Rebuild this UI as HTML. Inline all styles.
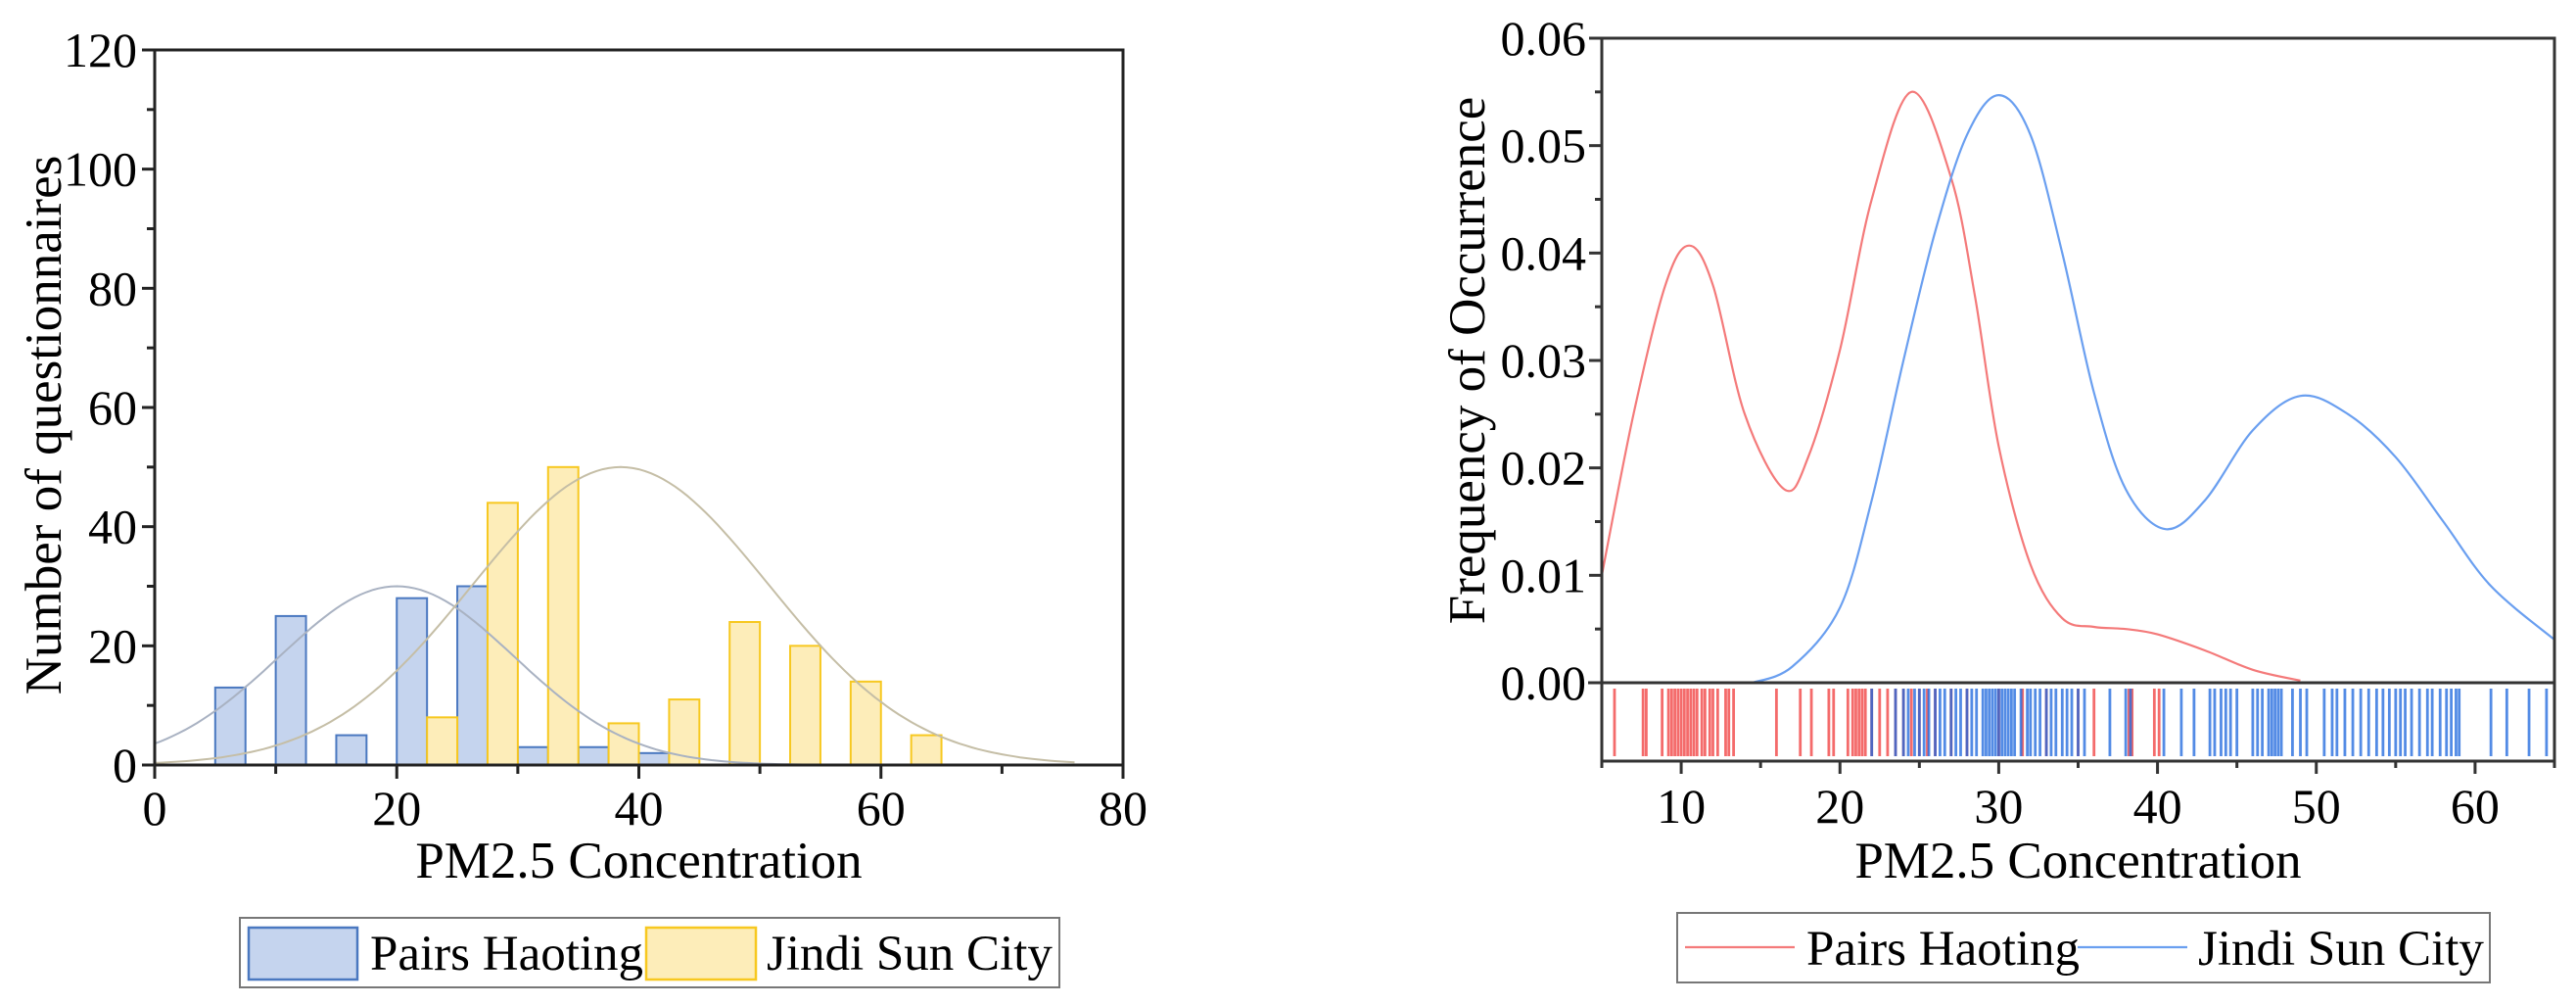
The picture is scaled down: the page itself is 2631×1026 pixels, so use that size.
<!DOCTYPE html>
<html><head><meta charset="utf-8"><style>
html,body{margin:0;padding:0;background:#fff;}
svg{display:block;font-family:"Liberation Serif",serif;}
</style></head><body>
<svg id="s" width="2631" height="1026" viewBox="0 0 2631 1026" xmlns="http://www.w3.org/2000/svg">
<g id="left"></g>
<g id="right"></g>
</svg>
<script>
// ---- Left histogram data ----
const blueBins = [5,10,15,20,25,30,35,40];
const blueCounts = [13,25,5,28,30,3,3,2];
const yellowBins = [22.5,27.5,32.5,37.5,42.5,47.5,52.5,57.5,62.5];
const yellowCounts = [8,44,50,7,11,24,20,14,5];
const binWidth = 2.5;
const blueFit = [20, 9.7, 30];     // mean, sd, peak
const yellowFit = [38.5, 12.2, 50];
const leftXTicks = [0,20,40,60,80];
const leftYTicks = [0,20,40,60,80,100,120];
// ---- Right KDE data ----
const redX = [5,7,9,10.5,12,14,16.5,18,20,22,24.5,27,28.5,30,32,34,36,38,40,43,46,49];
const redY = [0.010,0.025,0.037,0.0407,0.037,0.025,0.018,0.021,0.031,0.045,0.055,0.047,0.036,0.022,0.011,0.006,0.0052,0.005,0.0045,0.003,0.0012,0.0002];
const blueKX = [14.5,17,20,22,24,26,28,30,32,34,36,38,40.5,43,46,49,52,55,58,61,65];
const blueKY = [0,0.0015,0.007,0.017,0.030,0.042,0.051,0.0547,0.051,0.040,0.027,0.018,0.0143,0.017,0.0235,0.0267,0.025,0.021,0.015,0.009,0.004];
const redRug = [5.8,7.6,7.8,8.8,9.2,9.4,9.6,9.8,10.0,10.2,10.4,10.6,10.8,11.0,11.3,11.5,11.8,12.0,12.3,12.8,13.0,13.3,16.0,17.5,18.2,19.3,19.6,20.5,20.8,21,21.2,21.4,21.6,22,22.5,23,23.5,24,24.5,25,25.5,26,27,28,30,31.5,33,35,36,38.2,38.4,39.8,40.1];
const blueRug = [22,23.5,24,24.3,24.7,25,25.3,25.6,26,26.3,26.6,27,27.3,27.6,28,28.3,28.6,29,29.2,29.4,29.6,29.8,30,30.2,30.4,30.6,30.8,31,31.4,31.8,32,32.3,32.6,33,33.3,33.6,34,34.3,34.6,35,35.4,37,38,38.3,40.4,41.5,42.3,43.3,43.6,44,44.3,44.6,45,46,46.3,46.6,47,47.2,47.4,47.6,47.8,48.5,49,49.4,50.5,51,51.3,51.8,52.3,52.8,53.3,53.8,54.2,54.6,55,55.3,55.6,56,56.5,57,57.3,57.8,58.2,58.5,58.8,59,61,62,63.4,64.5];
const rightXTicks = [10,20,30,40,50,60];
const rightYTicks = [0,0.01,0.02,0.03,0.04,0.05,0.06];

const NS="http://www.w3.org/2000/svg";
function mk(parent,tag,attrs,text){const e=document.createElementNS(NS,tag);for(const k in attrs)e.setAttribute(k,attrs[k]);if(text!==undefined)e.textContent=text;parent.appendChild(e);return e;}

// ---- Left chart ----
const L=document.getElementById('left');
const lx0=158,lx1=1147,ly0=781,ly1=51;
const lX=v=>lx0+(v-0)/80*(lx1-lx0);
const lY=v=>ly0-(v/120)*(ly0-ly1);
function bars(bins,counts,fill,stroke,name){
  bins.forEach((b,i)=>{
    const r=mk(L,'rect',{x:lX(b),y:lY(counts[i]),width:lX(b+binWidth)-lX(b),height:lY(0)-lY(counts[i]),fill:fill,stroke:stroke,'stroke-width':2});
    
    
  });
}
bars(blueBins,blueCounts,'#c5d4ee','#4a78c0','pairs-haoting');
bars(yellowBins,yellowCounts,'#fdedb9','#f7c820','jindi-sun-city');
function fitPath(f,col,name){
  let d='';for(let x=0;x<=76;x+=0.5){const y=f[2]*Math.exp(-((x-f[0])**2)/(2*f[1]*f[1]));d+=(d?'L':'M')+lX(x).toFixed(1)+','+lY(y).toFixed(1);}
  const p=mk(L,'path',{d:d,fill:'none',stroke:col,'stroke-width':2});
  
  
}
fitPath(blueFit,'#a9b2c2','pairs-haoting-normal-fit');
fitPath(yellowFit,'#c5bea6','jindi-sun-city-normal-fit');
mk(L,'rect',{x:lx0,y:ly1,width:lx1-lx0,height:ly0-ly1,fill:'none',stroke:'#222','stroke-width':3,});
for(let v=0;v<=80;v+=10){mk(L,'line',{x1:lX(v),x2:lX(v),y1:ly0,y2:ly0+(v%20?9:14),stroke:'#222','stroke-width':3});}
for(let v=0;v<=120;v+=10){mk(L,'line',{x1:lx0,x2:lx0-(v%20?8:13),y1:lY(v),y2:lY(v),stroke:'#222','stroke-width':3});}
leftXTicks.forEach(v=>{const t=mk(L,'text',{x:lX(v),y:842,'font-size':50,'text-anchor':'middle'},String(v));});
leftYTicks.forEach(v=>{const t=mk(L,'text',{x:140,y:lY(v)+17,'font-size':50,'text-anchor':'end'},String(v));});
mk(L,'text',{x:lX(40),y:896,'font-size':53,'text-anchor':'middle',},'PM2.5 Concentration');
mk(L,'text',{x:0,y:0,'font-size':53,'text-anchor':'middle',transform:'translate(62,434) rotate(-90)',},'Number of questionnaires');
const lg=mk(L,'g',{});
mk(lg,'rect',{x:245,y:937,width:837,height:71,fill:'#fff',stroke:'#777','stroke-width':2});
mk(lg,'rect',{x:254,y:947,width:111,height:53,fill:'#c5d4ee',stroke:'#4a78c0','stroke-width':2.5});
mk(lg,'text',{x:378,y:990,'font-size':51,},'Pairs Haoting');
mk(lg,'rect',{x:660,y:947,width:112,height:53,fill:'#fdedb9',stroke:'#f7c820','stroke-width':2.5});
mk(lg,'text',{x:783,y:990,'font-size':51,},'Jindi Sun City');

// ---- Right chart ----
const R=document.getElementById('right');
const rx0=1636,rx1=2609,ry0=697,ry1=39,rugB=777;
const rX=v=>rx0+(v-5)/60*(rx1-rx0);
const rY=v=>ry0-(v/0.06)*(ry0-ry1);
function smooth(xs,ys){
  const P=xs.map((x,i)=>[rX(x),rY(ys[i])]);let d='M'+P[0][0].toFixed(1)+','+P[0][1].toFixed(1);
  for(let i=0;i<P.length-1;i++){const p0=P[Math.max(i-1,0)],p1=P[i],p2=P[i+1],p3=P[Math.min(i+2,P.length-1)];
    const c1=[p1[0]+(p2[0]-p0[0])/6,p1[1]+(p2[1]-p0[1])/6],c2=[p2[0]-(p3[0]-p1[0])/6,p2[1]-(p3[1]-p1[1])/6];
    d+='C'+c1.map(n=>n.toFixed(1))+' '+c2.map(n=>n.toFixed(1))+' '+p2[0].toFixed(1)+','+p2[1].toFixed(1);}
  return d;
}
function rug(vals,col,name){vals.forEach(v=>{const l=mk(R,'line',{x1:rX(v),x2:rX(v),y1:703,y2:772,stroke:col,'stroke-width':2.8,'stroke-opacity':0.75});});}
rug(redRug,'#f03a3a','pairs-haoting');
rug(blueRug,'#1a64dc','jindi-sun-city');
const rp=mk(R,'path',{d:smooth(redX,redY),fill:'none',stroke:'#f47a7a','stroke-width':2.2});

const bp=mk(R,'path',{d:smooth(blueKX,blueKY),fill:'none',stroke:'#6a9ff0','stroke-width':2.2});

mk(R,'path',{d:`M${rx0},${ry1}H${rx1}V${rugB}H${rx0}Z`,fill:'none',stroke:'#333','stroke-width':3,});
mk(R,'line',{x1:rx0-14,x2:rx1,y1:ry0,y2:ry0,stroke:'#333','stroke-width':3,});
for(let v=5;v<=65;v+=5){mk(R,'line',{x1:rX(v),x2:rX(v),y1:rugB,y2:rugB+(v%10?7:13),stroke:'#333','stroke-width':3});}
for(let i=0;i<=12;i++){const v=i*0.005;mk(R,'line',{x1:rx0,x2:rx0-(i%2?7:13),y1:rY(v),y2:rY(v),stroke:'#333','stroke-width':3});}
rightXTicks.forEach(v=>{const t=mk(R,'text',{x:rX(v),y:840,'font-size':50,'text-anchor':'middle'},String(v));});
rightYTicks.forEach(v=>{const t=mk(R,'text',{x:1620,y:rY(v)+17,'font-size':50,'text-anchor':'end'},v.toFixed(2));});
mk(R,'text',{x:rX(35),y:896,'font-size':53,'text-anchor':'middle',},'PM2.5 Concentration');
mk(R,'text',{x:0,y:0,'font-size':53,'text-anchor':'middle',transform:'translate(1516,368) rotate(-90)',},'Frequency of Occurrence');
const rg=mk(R,'g',{});
mk(rg,'rect',{x:1713,y:932,width:830,height:71,fill:'#fff',stroke:'#777','stroke-width':2});
mk(rg,'line',{x1:1721,x2:1833,y1:967,y2:967,stroke:'#f47a7a','stroke-width':2.2});
mk(rg,'text',{x:1845,y:985,'font-size':51,},'Pairs Haoting');
mk(rg,'line',{x1:2122,x2:2234,y1:967,y2:967,stroke:'#6a9ff0','stroke-width':2.2});
mk(rg,'text',{x:2245,y:985,'font-size':51,},'Jindi Sun City');
</script>
</body></html>
